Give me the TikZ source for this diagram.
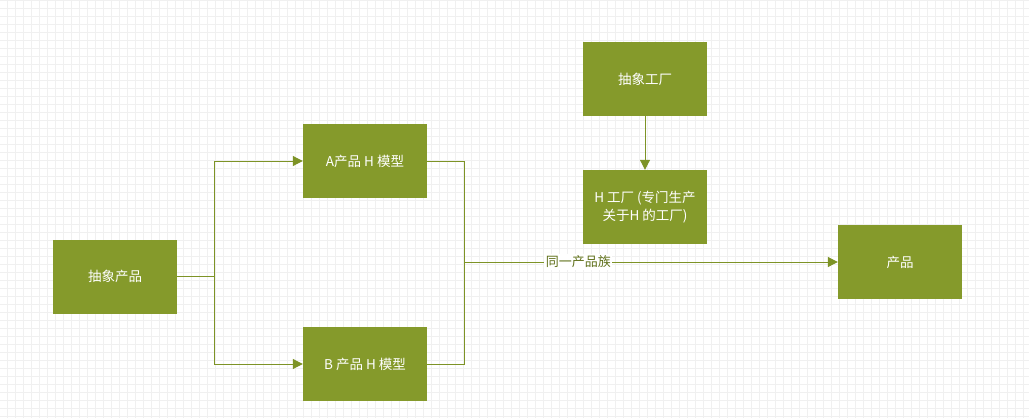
\documentclass[tikz,border=0pt]{standalone}
\usepackage{fontspec}
\setmainfont{Noto Sans CJK SC}
\usetikzlibrary{arrows.meta}
\definecolor{boxfill}{HTML}{859A2B}
\definecolor{linecol}{HTML}{7D9326}
\definecolor{labelcol}{HTML}{5F7019}
\definecolor{gridcol}{HTML}{F0F0F0}
\tikzset{
  box/.style={rectangle, fill=boxfill, draw=none, minimum width=124pt, minimum height=74pt,
    inner sep=0pt, text=white, font=\fontsize{13.5pt}{18pt}\selectfont, align=center},
  conn/.style={draw=linecol, line width=1pt},
  arr/.style={conn, -{Triangle[length=10pt,width=10pt]}},
  famlabel/.style={fill=white, text=labelcol, inner sep=1.5pt, font=\fontsize{13pt}{16pt}\selectfont}
}
\begin{document}
\begin{tikzpicture}[x=1pt,y=-1pt]
\useasboundingbox (0,0) rectangle (1029,418);
\fill[white] (0,0) rectangle (1029,418);
\foreach \i in {0,...,128} {\draw[gridcol, line width=1pt] ({7.5+8*\i},0) -- ({7.5+8*\i},418);}
\foreach \j in {0,...,52} {\draw[gridcol, line width=1pt] (0,{0.5+8*\j}) -- (1029,{0.5+8*\j});}

\node[box] (ap) at (115,276.8) {抽象产品};
\node[box] (a) at (365,161) {A产品 H 模型};
\node[box] (b) at (365,364) {B 产品 H 模型};
\node[box] (af) at (645,79) {抽象工厂};
\node[box] (hf) at (645,207) {H 工厂 (专门生产\\关于H 的工厂)};
\node[box] (p) at (900,262) {产品};

\coordinate (jl) at (214.5,276.8);
\coordinate (jr) at (464.5,262);

\draw[arr] (ap.east) -| (jl) |- (a.west);
\draw[arr] (jl) |- (b.west);
\draw[conn] (a.east) -| (jr) |- (b.east);
\draw[arr] (jr) -- node[famlabel, pos=0.305] {同一产品族} (p.west);
\draw[arr] (af.south) -- (hf.north);
\end{tikzpicture}
\end{document}
